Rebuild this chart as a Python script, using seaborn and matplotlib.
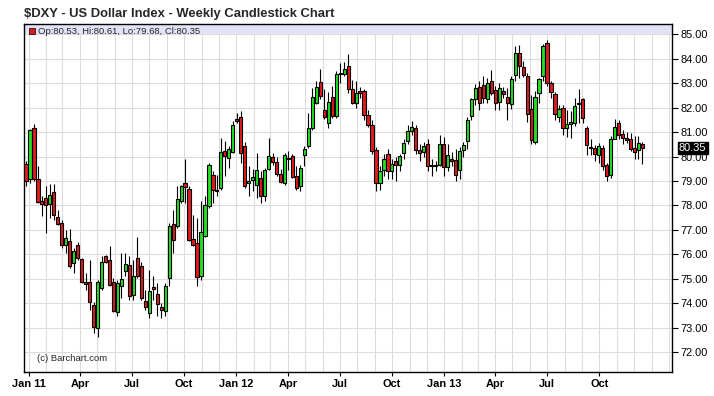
import pandas as pd
import numpy as np
import matplotlib
matplotlib.use("Agg")
import matplotlib.pyplot as plt
import matplotlib.dates as mdates
import seaborn as sns

# weekly DXY candles (Dec 2010 - Dec 2013)
opens = [79.70, 79.08, 81.17, 79.08, 78.20, 78.31, 78.07, 78.55, 77.53, 77.28,
         76.39, 76.53, 75.63, 76.39, 75.81, 74.85, 74.89, 73.93, 72.98, 74.62,
         75.92, 75.75, 74.86, 73.63, 74.69, 75.30, 75.57, 74.34, 75.85, 75.53,
         74.10, 73.59, 74.66, 74.37, 73.84, 73.69, 75.03, 77.24, 77.17, 78.17,
         78.92, 78.69, 76.63, 76.46, 75.12, 76.76, 77.96, 79.25, 78.65, 78.72,
         80.23, 79.95, 80.19, 81.52, 81.63, 80.42, 78.92, 79.06, 78.85, 79.13,
         78.37, 79.49, 79.99, 79.77, 79.29, 78.92, 79.93, 80.04, 79.22, 78.78,
         80.05, 80.42, 81.17, 82.17, 83.06, 81.89, 81.38, 82.45, 81.65, 83.36,
         83.36, 83.70, 82.75, 82.20, 82.68, 82.68, 81.68, 81.31, 80.26, 78.90,
         79.47, 80.12, 79.40, 79.81, 79.67, 80.15, 80.63, 81.04, 81.17, 80.26,
         80.19, 80.53, 79.67, 79.60, 79.67, 80.53, 79.58, 79.88, 79.85, 79.47,
         80.25, 80.63, 81.65, 82.34, 82.86, 82.91, 82.34, 83.09, 82.72, 82.24,
         82.68, 82.45, 82.13, 83.32, 84.25, 83.68, 83.29, 81.93, 80.59, 82.61,
         83.29, 84.66, 83.02, 82.54, 81.63, 81.99, 81.15, 81.34, 81.38, 82.20,
         82.34, 81.18, 80.40, 80.33, 80.06, 80.36, 79.65, 79.24, 80.72, 81.38,
         80.93, 80.74, 80.70, 80.33, 80.25, 80.53]
highs = [79.81, 81.13, 81.35, 79.63, 78.40, 78.81, 78.89, 78.89, 77.83, 77.42,
         77.01, 77.04, 76.26, 76.49, 75.85, 75.23, 75.78, 74.07, 74.96, 75.92,
         75.98, 76.33, 75.03, 74.96, 76.05, 76.05, 75.92, 75.78, 76.73, 75.70,
         74.55, 75.37, 75.10, 74.82, 74.00, 74.82, 77.28, 77.83, 78.78, 78.85,
         79.88, 78.78, 77.62, 77.49, 78.17, 78.37, 79.74, 79.40, 79.26, 80.77,
         80.63, 80.42, 81.45, 81.79, 81.86, 80.60, 79.60, 79.50, 80.15, 79.40,
         79.53, 80.76, 80.15, 80.00, 79.50, 80.15, 80.22, 80.12, 79.60, 79.67,
         80.42, 81.79, 82.81, 83.09, 83.57, 82.77, 82.64, 82.88, 83.50, 83.84,
         83.87, 84.18, 83.15, 83.09, 82.85, 82.75, 81.90, 81.50, 80.40, 79.60,
         80.10, 80.30, 79.90, 80.00, 80.10, 80.70, 81.30, 81.45, 81.30, 80.50,
         80.60, 80.70, 79.90, 79.80, 80.90, 80.80, 80.50, 80.20, 80.30, 80.40,
         80.60, 81.60, 82.40, 82.95, 83.10, 83.30, 83.20, 83.55, 82.90, 83.00,
         82.85, 82.80, 83.30, 84.50, 84.55, 83.90, 83.40, 82.50, 82.70, 83.20,
         84.60, 84.75, 83.10, 82.65, 82.10, 82.10, 81.90, 81.86, 82.40, 82.75,
         82.40, 81.24, 80.70, 80.49, 80.56, 80.49, 79.74, 80.83, 81.52, 81.49,
         81.10, 80.99, 80.97, 80.83, 80.83, 80.61]
lows = [78.78, 78.92, 78.99, 78.10, 77.58, 76.87, 77.49, 77.42, 77.21, 76.26,
        76.05, 75.44, 75.23, 75.78, 74.82, 74.55, 73.73, 72.77, 72.64, 74.55,
        75.64, 74.69, 73.66, 73.46, 74.21, 75.10, 74.14, 74.14, 75.03, 74.15,
        73.73, 73.39, 74.14, 73.46, 73.39, 73.46, 74.69, 76.05, 77.08, 78.10,
        78.10, 76.53, 76.33, 74.69, 74.96, 76.73, 77.90, 78.10, 78.37, 78.65,
        79.20, 79.54, 80.15, 81.38, 79.74, 78.70, 78.37, 78.60, 78.30, 78.10,
        78.17, 79.47, 79.67, 79.20, 78.90, 78.85, 79.47, 79.13, 78.65, 78.58,
        79.60, 80.35, 81.10, 82.13, 82.34, 81.52, 81.17, 81.58, 81.58, 83.02,
        83.29, 82.60, 82.13, 81.99, 82.40, 81.50, 81.20, 80.10, 78.60, 78.62,
        79.20, 79.10, 79.10, 79.00, 79.40, 79.90, 80.50, 80.90, 80.10, 79.80,
        80.00, 79.40, 79.20, 79.40, 79.60, 79.20, 79.40, 79.60, 79.00, 79.10,
        80.00, 80.30, 81.50, 82.10, 81.90, 82.20, 82.20, 82.50, 81.90, 81.90,
        82.40, 81.50, 81.95, 83.10, 83.20, 83.25, 81.40, 80.50, 80.50, 82.20,
        83.10, 82.90, 82.40, 81.50, 81.40, 80.90, 80.80, 80.77, 81.24, 81.38,
        81.38, 80.08, 80.08, 79.81, 79.74, 79.47, 79.00, 79.13, 80.70, 80.70,
        80.53, 80.56, 80.22, 79.92, 79.88, 79.68]
closes = [79.02, 81.08, 79.08, 78.14, 78.05, 78.03, 78.42, 77.62, 77.25, 76.39,
          76.67, 75.53, 76.12, 75.85, 74.85, 74.80, 74.04, 73.02, 74.89, 75.68,
          75.68, 74.73, 73.70, 74.82, 74.99, 75.60, 74.28, 75.10, 75.10, 74.21,
          73.84, 74.49, 74.58, 73.96, 73.73, 74.71, 77.17, 76.60, 78.26, 78.78,
          78.76, 76.60, 76.37, 75.07, 76.90, 78.03, 79.66, 78.65, 78.61, 80.19,
          80.04, 80.29, 81.31, 81.45, 80.15, 78.78, 79.00, 79.15, 79.43, 78.37,
          79.43, 80.04, 79.77, 79.29, 78.95, 80.07, 79.88, 79.17, 78.72, 79.53,
          80.31, 81.15, 82.45, 82.85, 82.47, 81.61, 82.24, 81.65, 83.36, 83.40,
          83.56, 82.75, 82.20, 82.61, 82.61, 81.68, 81.31, 80.22, 78.90, 79.40,
          79.88, 79.40, 79.71, 79.67, 80.04, 80.56, 81.04, 81.20, 80.25, 80.15,
          80.45, 79.60, 79.60, 79.62, 80.53, 79.58, 80.05, 79.81, 79.26, 80.22,
          80.49, 81.49, 82.34, 82.81, 82.17, 82.40, 83.02, 82.61, 82.17, 82.79,
          82.54, 82.17, 83.16, 84.25, 83.70, 83.32, 81.72, 80.66, 82.45, 83.18,
          84.50, 82.99, 82.65, 81.72, 81.93, 81.15, 81.34, 81.40, 82.06, 82.13,
          81.56, 80.46, 80.33, 80.12, 80.42, 79.63, 79.20, 80.72, 81.20, 80.90,
          80.74, 80.67, 80.30, 80.19, 80.56, 80.35]

weeks = pd.date_range("2010-12-27", periods=len(closes), freq="W-MON")
df = pd.DataFrame({"date": weeks, "open": opens, "high": highs,
                   "low": lows, "close": closes})
df["x"] = mdates.date2num(df["date"])
df["up"] = df["close"] >= df["open"]

tick_dates = pd.date_range("2011-01-01", "2013-10-01", freq="QS")
tick_labels = ["Jan 11", "Apr", "Jul", "Oct", "Jan 12", "Apr", "Jul", "Oct",
               "Jan 13", "Apr", "Jul", "Oct"]

sns.set_style("whitegrid")
plt.rcParams["font.family"] = ["Liberation Sans", "DejaVu Sans"]

fig = plt.figure(figsize=(7.14, 3.96), dpi=100)
ax = fig.add_axes([24 / 714, 1 - 372 / 396, 648 / 714, 348 / 396])

RED = "#e01b1b"
GREEN = "#22e022"

# wicks
ax.vlines(df["x"], df["low"], df["high"], color="black", lw=0.8, zorder=3)
# bodies
body = (df["close"] - df["open"]).abs().clip(lower=0.04)
bottom = df[["open", "close"]].min(axis=1)
ax.bar(df["x"], body, bottom=bottom, width=5.6,
       color=np.where(df["up"], GREEN, RED), edgecolor="black",
       linewidth=0.8, zorder=4)

ax.set_ylim(71.19, 85.42)
ax.set_xlim(mdates.date2num(pd.Timestamp("2010-12-23 12:00")),
            mdates.date2num(pd.Timestamp("2014-02-06")))
ax.axhspan(85.0, 85.42, color="#e3e3f7", zorder=1, lw=0)

# grid
ax.set_yticks(np.arange(72, 86, 1.0))
ax.yaxis.set_major_formatter(matplotlib.ticker.FormatStrFormatter("%.2f"))
ax.yaxis.tick_right()
ax.set_xticks(mdates.date2num(tick_dates))
ax.set_xticklabels(tick_labels, fontweight="bold", fontsize=7.9)
ax.xaxis.set_minor_locator(mdates.MonthLocator())
ax.grid(which="both", axis="x", color="#dcdcdc", lw=0.8, zorder=0)
ax.grid(which="major", axis="y", color="#dcdcdc", lw=0.8, zorder=0)
ax.tick_params(axis="y", direction="out", length=4, width=0.8, labelsize=7.9,
               pad=2, colors="black", right=True, left=False)
ax.tick_params(axis="x", which="major", direction="out", length=3, width=0.8,
               pad=2, colors="black", bottom=True)
ax.tick_params(axis="x", which="minor", length=0)
for s in ax.spines.values():
    s.set_color("black")
    s.set_linewidth(1.0)
ax.set_axisbelow(True)

# last price box
ax.annotate(f"{closes[-1]:.2f}", xy=(1.0, closes[-1]),
            xycoords=("axes fraction", "data"), xytext=(5, 0),
            textcoords="offset points", va="center", ha="left",
            fontsize=7.9, color="white",
            bbox=dict(boxstyle="square,pad=0.1", fc="black", ec="black"))

fig.text(24 / 714, 1 - 17 / 396,
         "$DXY - US Dollar Index - Weekly Candlestick Chart",
         fontsize=9.4, fontweight="bold", va="baseline", ha="left")
fig.patches.append(plt.Rectangle((29 / 714, 1 - 33.5 / 396), 6 / 714, 6 / 396,
                                 transform=fig.transFigure, fc=RED,
                                 ec="black", lw=0.5, zorder=5))
fig.text(38 / 714, 1 - 34.5 / 396,
         f"Op:{opens[-1]:.2f}, Hi:{highs[-1]:.2f}, Lo:{lows[-1]:.2f}, Cl:{closes[-1]:.2f}",
         fontsize=6.8, va="baseline", ha="left")
copy_tr = matplotlib.transforms.blended_transform_factory(ax.transAxes, ax.transData)
ax.text(0.02, 71.62, "(c) Barchart.com", fontsize=6.8, va="baseline",
        ha="left", transform=copy_tr)

fig.savefig("out.png", dpi=100)
